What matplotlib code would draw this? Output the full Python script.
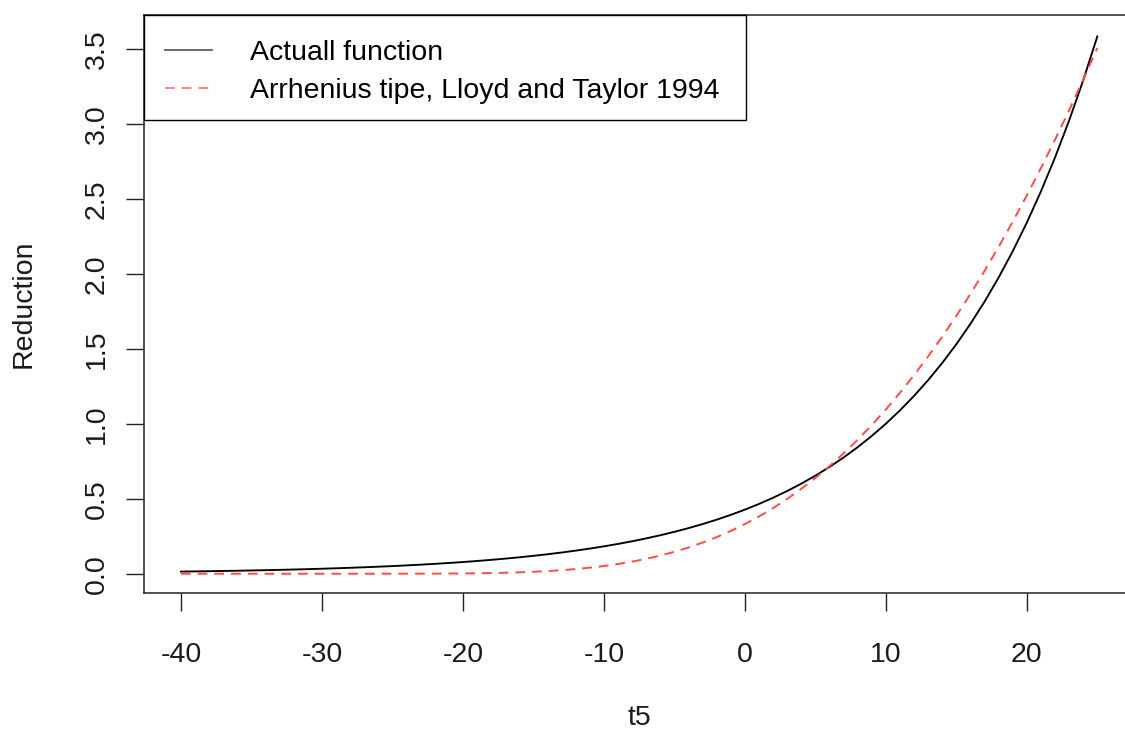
import matplotlib
matplotlib.use("Agg")
import matplotlib.pyplot as plt
from matplotlib.patches import Rectangle

plt.rcParams['font.family'] = ['Liberation Sans', 'DejaVu Sans']

# temperature (t5)
t5 = list(range(-40, 26))

actual = [0.0142, 0.0155, 0.0169, 0.0184, 0.0200, 0.0218, 0.0237, 0.0258, 0.0281, 0.0306,
          0.0333, 0.0363, 0.0395, 0.0430, 0.0468, 0.0509, 0.0555, 0.0604, 0.0658, 0.0716,
          0.0779, 0.0849, 0.0924, 0.1006, 0.1095, 0.1193, 0.1298, 0.1414, 0.1539, 0.1676,
          0.1825, 0.1987, 0.2163, 0.2355, 0.2564, 0.2792, 0.3040, 0.3310, 0.3603, 0.3923,
          0.4272, 0.4651, 0.5064, 0.5513, 0.6003, 0.6536, 0.7116, 0.7748, 0.8436, 0.9185,
          1.0000, 1.0888, 1.1854, 1.2907, 1.4053, 1.5301, 1.6659, 1.8138, 1.9748, 2.1501,
          2.3410, 2.5488, 2.7751, 3.0215, 3.2897, 3.5818]

# Arrhenius type, Lloyd and Taylor 1994 (red dashed)
arrhenius = [0.0000, 0.0000, 0.0000, 0.0000, 0.0000, 0.0000, 0.0000, 0.0000, 0.0000, 0.0000,
             0.0000, 0.0000, 0.0000, 0.0000, 0.0001, 0.0001, 0.0002, 0.0004, 0.0007, 0.0012,
             0.0019, 0.0030, 0.0045, 0.0065, 0.0093, 0.0129, 0.0176, 0.0236, 0.0311, 0.0403,
             0.0514, 0.0648, 0.0807, 0.0993, 0.1211, 0.1462, 0.1748, 0.2074, 0.2440, 0.2851,
             0.3308, 0.3815, 0.4373, 0.4987, 0.5657, 0.6383, 0.7170, 0.8018, 0.8930, 0.9906,
             1.0950, 1.2060, 1.3240, 1.4488, 1.5807, 1.7195, 1.8657, 2.0189, 2.1794, 2.3472,
             2.5222, 2.7043, 2.8938, 3.0902, 3.2941, 3.5045]

xticks = [-40, -30, -20, -10, 0, 10, 20]
yticks = [0.0, 0.5, 1.0, 1.5, 2.0, 2.5, 3.0, 3.5]
ytick_labels = ["0.0", "0.5", "1.0", "1.5", "2.0", "2.5", "3.0", "3.5"]
legend_labels = ["Actuall function", "Arrhenius tipe, Lloyd and Taylor 1994"]

FS = 20.5
W, H = 1125, 731
AX_L, AX_R, AX_T, AX_B = 144.3, 1134.0, 15.0, 593.0
fig = plt.figure(figsize=(W / 100, H / 100), dpi=100)
ax = fig.add_axes([AX_L / W, (H - AX_B) / H, (AX_R - AX_L) / W, (AX_B - AX_T) / H])


def ax_xy(px, py):
    return ((px - AX_L) / (AX_R - AX_L), (AX_B - py) / (AX_B - AX_T))


ax.plot(t5, actual, color='black', lw=1.35, label=legend_labels[0])
ax.plot(t5, arrhenius, color='#ff4a4a', lw=1.4, dashes=(5, 3.6), label=legend_labels[1])

span = max(actual) - min(actual)
ax.set_xlim(-42.6, 27.6)
ax.set_ylim(min(actual) - 0.04 * span, max(actual) + 0.04 * span)

ax.set_xticks(xticks)
ax.set_xticklabels([str(v) for v in xticks])
ax.set_yticks(yticks)
ax.set_yticklabels(ytick_labels, rotation=90, va='center')
ax.tick_params(axis='both', direction='out', length=13, width=1.0, color='#222222',
               labelsize=FS, labelcolor='#1a1a1a')
ax.tick_params(axis='x', pad=22.6)
ax.tick_params(axis='y', pad=11.8)

for s in ax.spines.values():
    s.set_linewidth(1.1)
    s.set_color('#222222')

ax.set_xlabel("t5", fontsize=FS, color='#1a1a1a', labelpad=26.5)
ax.set_ylabel("Reduction", fontsize=FS, color='#1a1a1a', labelpad=34)

# legend frame (drawn separately for exact R-like padding)
x0, y0 = ax_xy(AX_L, 120)
x1, y1 = ax_xy(746, AX_T)
ax.add_patch(Rectangle((x0, y0), x1 - x0, y1 - y0, transform=ax.transAxes,
                       facecolor='white', edgecolor='black', lw=1.0, zorder=5, clip_on=False))
leg = ax.legend(loc='upper left', bbox_to_anchor=ax_xy(165, 39.7), borderaxespad=0,
                borderpad=0, frameon=False, fontsize=FS, handlelength=1.65,
                handletextpad=1.33, labelspacing=0.425)
leg.set_zorder(6)
leg.legend_handles[0].set_color('#666666')
leg.legend_handles[1].set_alpha(0.7)

fig.savefig("out.png", dpi=100)
